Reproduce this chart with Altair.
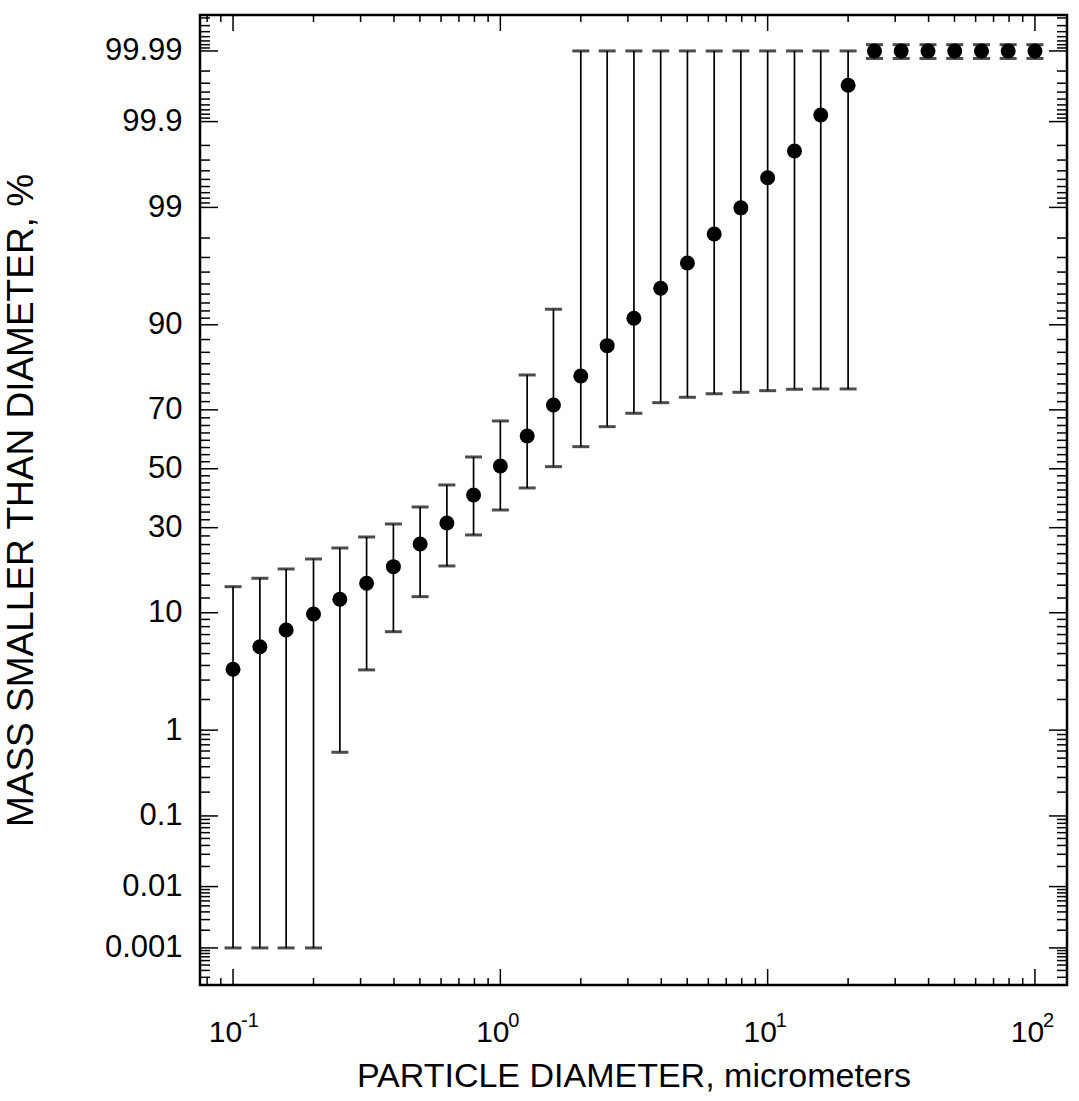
import altair as alt
import pandas as pd
from statistics import NormalDist

# ---------------- data ----------------
diameter = [0.1, 0.126, 0.158, 0.2, 0.251, 0.316, 0.398, 0.501, 0.631, 0.794,
            1.0, 1.26, 1.58, 2.0, 2.51, 3.16, 3.98, 5.01, 6.31, 7.94,
            10.0, 12.6, 15.8, 20.0, 25.1, 31.6, 39.8, 50.1, 63.1, 79.4, 100.0]
mass_pct = [3.72, 5.66, 7.57, 9.81, 12.27, 15.41, 19.18, 25.16, 31.47, 40.78,
            50.99, 61.48, 71.50, 79.56, 86.34, 90.98, 94.59, 96.65, 98.17, 98.99,
            99.52, 99.766, 99.918, 99.968, 99.99, 99.99, 99.99, 99.99, 99.99, 99.99, 99.99]
err_low = [0.001, 0.001, 0.001, 0.001, 0.581, 3.67, 7.35, 12.75, 19.35, 27.79,
           35.69, 43.22, 50.75, 57.80, 64.61, 68.93, 72.18, 73.77, 74.81, 75.20,
           75.65, 76.04, 76.13, 76.13, 99.987, 99.987, 99.987, 99.987, 99.987, 99.987, 99.987]
err_high = [14.70, 16.49, 18.62, 21.10, 24.04, 27.19, 31.16, 36.69, 44.27, 54.18,
            66.48, 79.81, 92.22, 99.99, 99.99, 99.99, 99.99, 99.99, 99.99, 99.99,
            99.99, 99.99, 99.99, 99.99, 99.992, 99.992, 99.992, 99.992, 99.992, 99.992, 99.992]

y_major = [0.001, 0.01, 0.1, 1, 10, 30, 50, 70, 90, 99, 99.9, 99.99]
y_labels = ["0.001", "0.01", "0.1", "1", "10", "30", "50", "70", "90", "99", "99.9", "99.99"]
y_minor = ([0.0003, 0.0004, 0.0005, 0.0006, 0.0007, 0.0008, 0.0009]
           + [0.002, 0.003, 0.004, 0.005, 0.006, 0.007, 0.008, 0.009]
           + [0.02, 0.03, 0.04, 0.05, 0.06, 0.07, 0.08, 0.09]
           + [0.2, 0.3, 0.4, 0.5, 0.6, 0.7, 0.8, 0.9]
           + [2, 3, 4, 5, 6, 7, 8, 9]
           + [12.5, 15, 17.5, 20, 22.5, 25, 27.5, 32.5, 35, 37.5, 40, 42.5, 45, 47.5,
              52.5, 55, 57.5, 60, 62.5, 65, 67.5, 72.5, 75, 77.5, 80, 82.5, 85, 87.5]
           + [91, 92, 93, 94, 95, 96, 97, 98]
           + [99.1, 99.2, 99.3, 99.4, 99.5, 99.6, 99.7, 99.8]
           + [99.91, 99.92, 99.93, 99.94, 99.95, 99.96, 99.97, 99.98]
           + [99.991, 99.992, 99.993, 99.994, 99.995, 99.996, 99.997])
x_major = [0.1, 1.0, 10.0, 100.0]
x_exponents = ["-1", "0", "1", "2"]
x_minor = [0.08, 0.09, 0.2, 0.3, 0.4, 0.5, 0.6, 0.7, 0.8, 0.9,
           2, 3, 4, 5, 6, 7, 8, 9, 20, 30, 40, 50, 60, 70, 80, 90]

# ---------------- probability (probit) transform ----------------
nd = NormalDist()


def probit(p):
    return nd.inv_cdf(p / 100.0)


df = pd.DataFrame({
    "d": diameter,
    "z": [probit(v) for v in mass_pct],
    "zlo": [probit(v) for v in err_low],
    "zhi": [probit(v) for v in err_high],
})
ymaj_df = pd.DataFrame({"z": [probit(v) for v in y_major]})
ymin_df = pd.DataFrame({"z": [probit(v) for v in y_minor]})
xmaj_df = pd.DataFrame({"d": x_major, "e": x_exponents})
xmin_df = pd.DataFrame({"d": x_minor})

W, H = 867, 970
FONT = "Liberation Sans"

yscale = alt.Scale(domain=[-4.595, 4.039], nice=False, zero=False)
xscale = alt.Scale(type="log", domain=[0.07523, 131.8], nice=False)

label_expr = " : ".join(
    f"abs(datum.value - ({probit(v):.6f})) < 0.001 ? '{lab}'" for v, lab in zip(y_major, y_labels)
) + " : ''"

xaxis = alt.Axis(values=x_major, labelExpr="'10'", labelFontSize=30, labelFont=FONT,
                 labelColor="black", labelOffset=-8, labelPadding=32, labelBaseline="top",
                 ticks=False, domain=False, grid=False, labelFlush=False,
                 title="PARTICLE DIAMETER, micrometers", titleFont=FONT, titleFontSize=34,
                 titleFontWeight="normal", titleColor="black", titleBaseline="alphabetic",
                 titleY=101, titleX=W / 2)
yaxis = alt.Axis(values=[probit(v) for v in y_major], labelExpr=label_expr, labelFontSize=31,
                 labelFont=FONT, labelColor="black", labelPadding=18, labelBaseline="middle",
                 ticks=False, domain=False, grid=False, labelFlush=False,
                 title="MASS SMALLER THAN DIAMETER, %", titleFont=FONT, titleFontSize=37,
                 titleFontWeight="normal", titleColor="black", titleAngle=270,
                 titleBaseline="alphabetic", titleAlign="center", titleX=-168, titleY=H / 2)


def X(field):
    return alt.X(f"{field}:Q", scale=xscale, axis=xaxis)


def Y(field):
    return alt.Y(f"{field}:Q", scale=yscale, axis=yaxis)


pts = alt.Chart(df).mark_circle(color="black", opacity=1, size=225).encode(x=X("d"), y=Y("z"))
bars = alt.Chart(df).mark_rule(color="black", strokeWidth=1.7).encode(
    x=X("d"), y=Y("zlo"), y2="zhi:Q")
cap_lo = alt.Chart(df).mark_tick(color="black", orient="horizontal", size=17, thickness=3).encode(
    x=X("d"), y=Y("zlo"))
cap_hi = alt.Chart(df).mark_tick(color="black", orient="horizontal", size=17, thickness=3).encode(
    x=X("d"), y=Y("zhi"))


def yticks(data, x0, x1):
    return alt.Chart(data).mark_rule(color="black", strokeWidth=1.5).encode(
        y=Y("z"), x=alt.value(x0), x2=alt.value(x1))


def xticks(data, y0, y1):
    return alt.Chart(data).mark_rule(color="black", strokeWidth=1.5).encode(
        x=X("d"), y=alt.value(y0), y2=alt.value(y1))


tick_layers = [
    yticks(ymaj_df, 0, 18), yticks(ymaj_df, W - 18, W),
    yticks(ymin_df, 0, 10), yticks(ymin_df, W - 10, W),
    xticks(xmaj_df, H - 16, H), xticks(xmaj_df, 0, 16),
    xticks(xmin_df, H - 7, H), xticks(xmin_df, 0, 7),
]

exps = alt.Chart(xmaj_df).mark_text(
    font=FONT, fontSize=20, color="black", align="left", baseline="top", dx=8
).encode(x=X("d"), y=alt.value(H + 26), text="e:N")

chart = alt.layer(pts, bars, cap_lo, cap_hi, *tick_layers, exps).properties(
    width=W, height=H,
    autosize=alt.AutoSizeParams(type="none"),
    padding={"left": 200, "top": 15, "right": 12, "bottom": 116},
    background="white",
).configure_view(stroke="black", strokeWidth=2.5)

chart.save("out.html", embed_options={"renderer": "svg", "actions": False})
